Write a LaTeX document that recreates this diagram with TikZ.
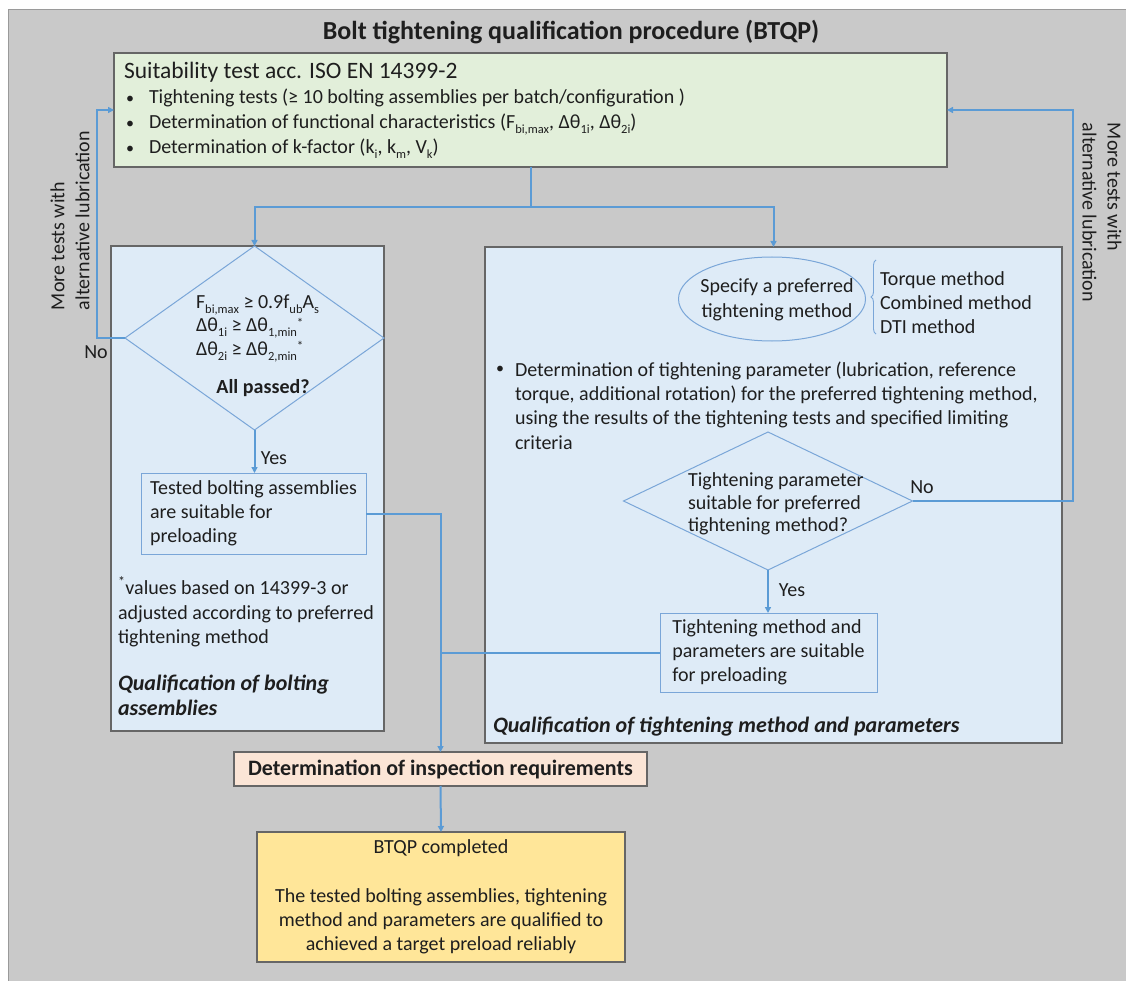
\documentclass[tikz,border=0pt]{standalone}
\usepackage{fontspec}
\setmainfont{Carlito}
\usetikzlibrary{arrows.meta,shapes.geometric,decorations.pathreplacing}
\definecolor{panel}{HTML}{C9C9C9}
\definecolor{panelborder}{HTML}{9A9A9A}
\definecolor{greenfill}{HTML}{E2EFDA}
\definecolor{bluefill}{HTML}{DEEBF7}
\definecolor{connblue}{HTML}{5B9BD5}
\definecolor{thinblue}{HTML}{7AA6D8}
\definecolor{bordergray}{HTML}{666666}
\definecolor{peach}{HTML}{FBE5D6}
\definecolor{gold}{HTML}{FFE699}
\definecolor{txt}{HTML}{1E1E1E}
\newcommand{\lowsub}[1]{\raisebox{-0.25em}[0pt][0pt]{\fontsize{12.5}{12.5}\selectfont #1}}
\newcommand{\minstar}{\raisebox{0.22em}[0pt][0pt]{\fontsize{13}{13}\selectfont *}}
\begin{document}
\begin{tikzpicture}[x=1pt,y=-1pt,
  every node/.style={inner sep=0pt, outer sep=0pt, text=txt},
  body/.style={font=\fontsize{20}{24}\selectfont},
  line/.style={body, anchor=west, text height=14pt, text depth=5pt},
  bigbox/.style={draw=bordergray, line width=1.2pt, rectangle},
  bluebox/.style={draw=thinblue, line width=1pt, rectangle, fill=bluefill},
  decision/.style={diamond, draw=thinblue, line width=1pt, fill=bluefill},
  conn/.style={draw=connblue, line width=2pt},
  arr/.style={conn, -{Triangle[length=6pt,width=6pt]}},
  qual/.style={font=\fontsize{22}{25}\selectfont\bfseries\itshape, anchor=west, align=left}
]
\useasboundingbox (0,0) rectangle (1126,981);
\fill[white] (0,0) rectangle (1126,981);
\fill[panel] (8,10) rectangle (1126,981);
\draw[panelborder, line width=1pt] (8,981) -- (8,10) -- (1126,10);

% title
\node[font=\fontsize{26}{30}\selectfont\bfseries] (title) at (571,32) {Bolt tightening qualification procedure (BTQP)};

% suitability test box
\node[bigbox, fill=greenfill, minimum width=833pt, minimum height=114pt] (suit) at (530.5,110) {};
\node[line, font=\fontsize{23.5}{26}\selectfont] (suith) at (124,74) {Suitability test acc. ISO EN 14399-2};
\node[line, font=\fontsize{16}{20}\selectfont] (b1) at (126,99) {•};
\node[line] (t1) at (149,99) {Tightening tests (≥ 10 bolting assemblies per batch/configuration )};
\node[line, font=\fontsize{16}{20}\selectfont] (b2) at (126,124) {•};
\node[line] (t2) at (149,124) {Determination of functional characteristics (F\lowsub{bi,max}, Δθ\lowsub{1i}, Δθ\lowsub{2i})};
\node[line, font=\fontsize{16}{20}\selectfont] (b3) at (126,149) {•};
\node[line] (t3) at (149,149) {Determination of k-factor (k\lowsub{i}, k\lowsub{m}, V\lowsub{k})};

% left qualification box
\node[bigbox, fill=bluefill, minimum width=273pt, minimum height=485pt] (lbox) at (247.5,488.5) {};
\node[decision, minimum width=259pt, minimum height=184pt] (ldia) at (254.5,338) {};
\node[anchor=west, align=left, font=\fontsize{20}{23.5}\selectfont] (ldiat) at (196,325)
  {F\lowsub{bi,max} ≥ 0.9f\lowsub{ub}A\lowsub{s}\\
   Δθ\lowsub{1i} ≥ Δθ\lowsub{1,min}\minstar\\
   Δθ\lowsub{2i} ≥ Δθ\lowsub{2,min}\minstar};
\node[font=\fontsize{20}{24}\selectfont\bfseries] (allp) at (263,388) {All passed?};
\node[bluebox, body, minimum width=225pt, minimum height=81pt, align=left] (tbox) at (253.5,513.5)
  {Tested bolting assemblies\\are suitable for\\preloading};
\node[anchor=west, align=left, font=\fontsize{20}{24.5}\selectfont] (foot) at (118,612)
  {\textsuperscript{*}values based on 14399-3 or\\adjusted according to preferred\\tightening method};
\node[qual] (lqual) at (118,695.5) {Qualification of bolting\\assemblies};

% right qualification box
\node[bigbox, fill=bluefill, minimum width=577pt, minimum height=496pt] (rbox) at (773.5,495) {};
\node[ellipse, draw=thinblue, line width=1pt, minimum width=187pt, minimum height=84pt] (spec) at (772,299) {};
\node[align=center, font=\fontsize{20}{25}\selectfont] (spect) at (777,300)
  {Specify a preferred\\tightening method};
\draw[decorate, decoration={brace, amplitude=5pt}, draw=thinblue, line width=0.9pt] (876,334) -- (876,260);
\node[anchor=west, align=left, font=\fontsize{20}{24}\selectfont] (methods) at (880,303)
  {Torque method\\Combined method\\DTI method};
\node[line, font=\fontsize{16}{20}\selectfont] (rb) at (496,369) {•};
\node[anchor=west, align=left, font=\fontsize{20}{24.3}\selectfont] (rdet) at (515,405.5)
  {Determination of tightening parameter (lubrication, reference\\
   torque, additional rotation) for the preferred tightening method,\\
   using the results of the tightening tests and specified limiting\\
   criteria};
\node[decision, minimum width=289pt, minimum height=138pt, fill=none] (rdia) at (768,501) {};
\node[anchor=west, align=left, font=\fontsize{20}{22.5}\selectfont] (rdiat) at (688,504)
  {Tightening parameter\\suitable for preferred\\tightening method?};
\node[bluebox, body, minimum width=217pt, minimum height=79pt, align=left] (mbox) at (768.5,652.5)
  {Tightening method and\\parameters are suitable\\for preloading};
\node[qual] (rqual) at (493,727) {Qualification of tightening method and parameters};

% inspection and final
\node[bigbox, fill=peach, minimum width=413pt, minimum height=34pt, font=\fontsize{22}{24}\selectfont\bfseries] (ibox) at (440.5,769)
  {Determination of inspection requirements};
\node[bigbox, fill=gold, minimum width=368pt, minimum height=130pt, body, align=center] (fbox) at (441,897)
  {BTQP completed\\[24.5pt]The tested bolting assemblies, tightening\\method and parameters are qualified to\\achieved a target preload reliably};

% connectors
\coordinate (split) at (530.5,207);
\draw[arr] (suit.south) -- (split) -| (ldia.north);
\draw[arr] (split) -| (rbox.north);
\draw[arr] (ldia.south) -- (ldia.south |- tbox.north);
\coordinate (lret) at (97,110);
\draw[arr] (ldia.west) -| (lret) -- (lret -| suit.west);
\coordinate (rret) at (1073,110);
\draw[arr] (rdia.east) -| (rret) -- (rret -| suit.east);
\draw[arr] (rdia.south) -- (rdia.south |- mbox.north);
\draw[arr] (tbox.east) -| (ibox.north);
\draw[conn] (mbox.west) -- (mbox.west -| ibox.north);
\draw[arr] (ibox.south) -- (fbox.north);

% labels
\node[body] (lno) at (96,352) {No};
\node[body] (lyes) at (274,458) {Yes};
\node[body] (rno) at (922,487) {No};
\node[body] (ryes) at (792,590) {Yes};
\node[rotate=90, anchor=west, align=left, font=\fontsize{20}{25}\selectfont] (lmore) at (70,310)
  {More tests with\\alternative lubrication};
\node[rotate=-90, anchor=west, align=left, font=\fontsize{20}{25}\selectfont] (rmore) at (1102,123)
  {More tests with\\alternative lubrication};
\end{tikzpicture}
\end{document}
